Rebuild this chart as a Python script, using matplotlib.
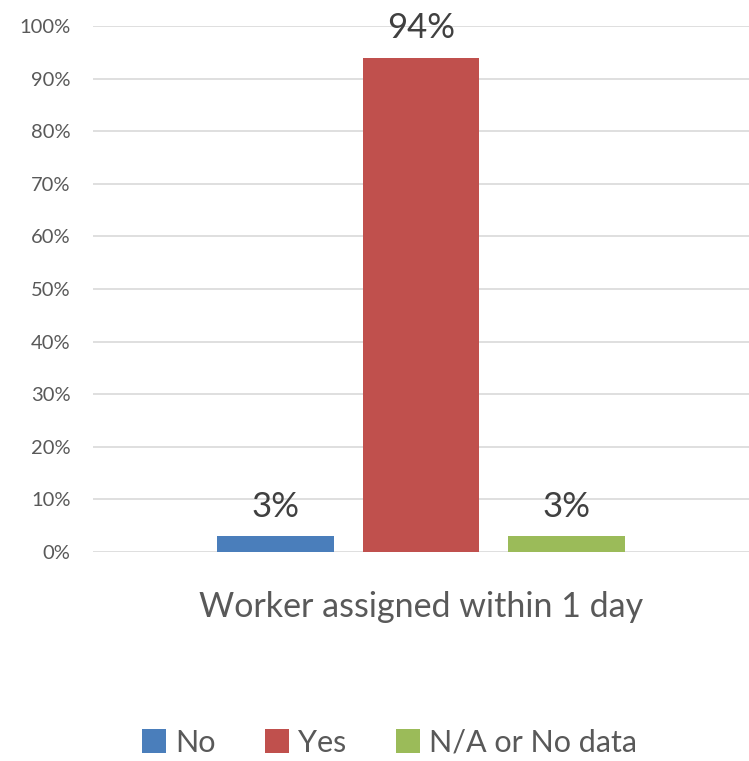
import matplotlib.pyplot as plt
import numpy as np
from matplotlib.patches import Patch
from matplotlib.ticker import PercentFormatter

# Data
categories = ['No', 'Yes', 'N/A or No data']
values = [0.03, 0.94, 0.03]
labels = ['3%', '94%', '3%']
colors = ['#4A7EBB', '#C0504D', '#9BBB59']
group_label = 'Worker assigned within 1 day'

plt.rcParams['font.family'] = ['Lato', 'DejaVu Sans']
text_color = '#595959'

fig = plt.figure(figsize=(7.49, 7.61), dpi=100)
ax = fig.add_axes([0.124, 0.2746, 0.876, 0.6912])

x = np.arange(len(categories))
bars = ax.bar(x, values, width=0.8, color=colors, zorder=3)

for bar, lab in zip(bars, labels):
    ax.text(bar.get_x() + bar.get_width() / 2, bar.get_height() + 0.026, lab,
            ha='center', va='bottom', fontsize=25, color='#404040', clip_on=False)

ax.set_xlim(1 - 2.255, 1 + 2.255)
ax.set_ylim(0, 1)
ax.set_yticks(np.arange(0, 1.01, 0.1))
ax.yaxis.set_major_formatter(PercentFormatter(1.0, decimals=0))
ax.tick_params(axis='y', length=0, labelsize=14.5, labelcolor=text_color, pad=16)
ax.set_xticks([])
ax.grid(axis='y', color='#D9D9D9', linewidth=1.2, zorder=0)
for s in ax.spines.values():
    s.set_visible(False)

ax.set_xlabel(group_label, fontsize=24.5, color=text_color, labelpad=28)

handles = [Patch(facecolor=c, label=n) for c, n in zip(colors, categories)]
fig.legend(handles=handles, loc='center', bbox_to_anchor=(0.52, 0.024), ncol=3,
           frameon=False, fontsize=22, labelcolor=text_color,
           handlelength=0.8, handleheight=0.8, handletextpad=0.3, columnspacing=1.6)

plt.savefig('out.png', dpi=100)
